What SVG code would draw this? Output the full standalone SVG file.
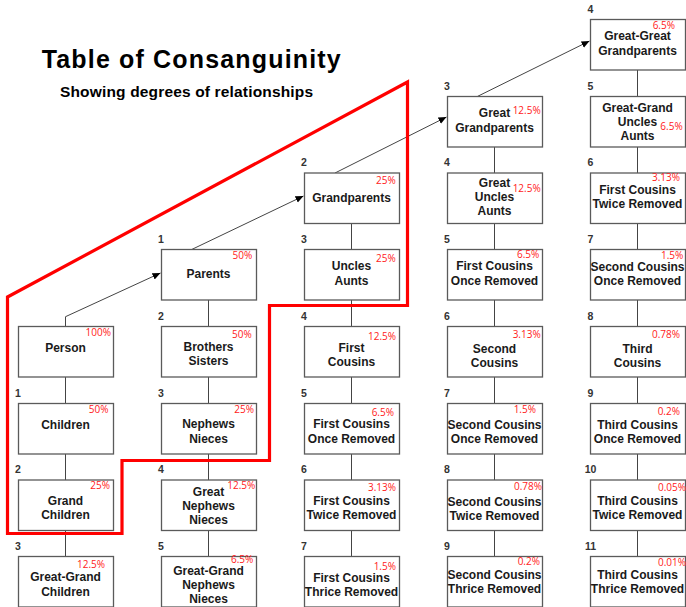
<svg xmlns="http://www.w3.org/2000/svg" width="686" height="607" viewBox="0 0 686 607">
  <style>
    .box { fill: #ffffff; stroke: #5a5a5a; stroke-width: 1.3; }
    .lbl { font-family: "Liberation Sans", Arial, sans-serif; font-weight: bold; font-size: 12px; fill: #1a1a1a; text-anchor: middle; }
    .pct { font-family: "Open Sans", "Liberation Sans", sans-serif; font-size: 10px; fill: #ff1a1a; text-anchor: end; }
    .num { font-family: "Liberation Sans", Arial, sans-serif; font-weight: bold; font-size: 10.5px; fill: #333333; text-anchor: middle; }
    .link { stroke: #444444; stroke-width: 1; fill: none; }
    .title { font-family: "Liberation Sans", Arial, sans-serif; font-weight: bold; fill: #000000; }
  </style>
  <defs>
    <marker id="arrow" markerUnits="userSpaceOnUse" markerWidth="9" markerHeight="8" refX="8" refY="3.5" orient="auto">
      <path d="M0,0 L8,3.5 L0,7 z" fill="#000000"/>
    </marker>
  </defs>

  <rect width="686" height="607" fill="#ffffff"/>

  <text class="title" x="41.7" y="68.3" font-size="25" textLength="299" lengthAdjust="spacing">Table of Consanguinity</text>
  <text class="title" x="60" y="96.5" font-size="15.5" textLength="253" lengthAdjust="spacing">Showing degrees of relationships</text>

  <!-- connectors -->
  <g id="connectors">
    <!-- column 1 -->
    <line class="link" x1="65.5" y1="377" x2="65.5" y2="403.5"/>
    <line class="link" x1="65.5" y1="454" x2="65.5" y2="480"/>
    <line class="link" x1="65.5" y1="530.5" x2="65.5" y2="556.5"/>
    <!-- column 2 -->
    <line class="link" x1="208.5" y1="300" x2="208.5" y2="326.5"/>
    <line class="link" x1="208.5" y1="377" x2="208.5" y2="403.5"/>
    <line class="link" x1="208.5" y1="454" x2="208.5" y2="480"/>
    <line class="link" x1="208.5" y1="530.5" x2="208.5" y2="556.5"/>
    <!-- column 3 -->
    <line class="link" x1="351.5" y1="223.5" x2="351.5" y2="249.5"/>
    <line class="link" x1="351.5" y1="300" x2="351.5" y2="326.5"/>
    <line class="link" x1="351.5" y1="377" x2="351.5" y2="403.5"/>
    <line class="link" x1="351.5" y1="454" x2="351.5" y2="480"/>
    <line class="link" x1="351.5" y1="530.5" x2="351.5" y2="556.5"/>
    <!-- column 4 -->
    <line class="link" x1="494.5" y1="147" x2="494.5" y2="173"/>
    <line class="link" x1="494.5" y1="223.5" x2="494.5" y2="249.5"/>
    <line class="link" x1="494.5" y1="300" x2="494.5" y2="326.5"/>
    <line class="link" x1="494.5" y1="377" x2="494.5" y2="403.5"/>
    <line class="link" x1="494.5" y1="454" x2="494.5" y2="480"/>
    <line class="link" x1="494.5" y1="530.5" x2="494.5" y2="556.5"/>
    <!-- column 5 -->
    <line class="link" x1="637.5" y1="70" x2="637.5" y2="96.5"/>
    <line class="link" x1="637.5" y1="147" x2="637.5" y2="173"/>
    <line class="link" x1="637.5" y1="223.5" x2="637.5" y2="249.5"/>
    <line class="link" x1="637.5" y1="300" x2="637.5" y2="326.5"/>
    <line class="link" x1="637.5" y1="377" x2="637.5" y2="403.5"/>
    <line class="link" x1="637.5" y1="454" x2="637.5" y2="480"/>
    <line class="link" x1="637.5" y1="530.5" x2="637.5" y2="556.5"/>
    <!-- ascending line -->
    <polyline class="link" points="65.5,326.5 65.5,316.7 160.5,273" marker-end="url(#arrow)"/>
    <line class="link" x1="191.7" y1="249.5" x2="303.5" y2="196" marker-end="url(#arrow)"/>
    <line class="link" x1="335" y1="173" x2="446.5" y2="117" marker-end="url(#arrow)"/>
    <line class="link" x1="477.3" y1="96.5" x2="589.5" y2="41" marker-end="url(#arrow)"/>
  </g>

  <!-- column 1 -->
  <g id="person">
    <rect class="box" x="18.5" y="326.5" width="95" height="50.5"/>
    <text class="lbl" x="65.5" y="352">Person</text>
    <text class="pct" x="111" y="336.3">100%</text>
  </g>
  <g id="children">
    <rect class="box" x="18.5" y="403.5" width="95" height="50.5"/>
    <text class="num" x="18" y="396.5">1</text>
    <text class="lbl" x="65.5" y="429.3">Children</text>
    <text class="pct" x="108.5" y="412.6">50%</text>
  </g>
  <g id="grand-children">
    <rect class="box" x="18.5" y="480" width="95" height="50.5"/>
    <text class="num" x="18" y="473">2</text>
    <text class="lbl" x="65.5" y="505">Grand</text>
    <text class="lbl" x="65.5" y="519.3">Children</text>
    <text class="pct" x="110" y="489.3">25%</text>
  </g>
  <g id="great-grand-children">
    <rect class="box" x="18.5" y="556.5" width="95" height="50.5"/>
    <text class="num" x="18" y="549.5">3</text>
    <text class="lbl" x="65.5" y="581">Great-Grand</text>
    <text class="lbl" x="65.5" y="596">Children</text>
    <text class="pct" x="105" y="568">12.5%</text>
  </g>

  <!-- column 2 -->
  <g id="parents">
    <rect class="box" x="161.5" y="249.5" width="95" height="50.5"/>
    <text class="num" x="161" y="242.5">1</text>
    <text class="lbl" x="208.5" y="278.3">Parents</text>
    <text class="pct" x="252.3" y="258.9">50%</text>
  </g>
  <g id="brothers-sisters">
    <rect class="box" x="161.5" y="326.5" width="95" height="50.5"/>
    <text class="num" x="161" y="319.5">2</text>
    <text class="lbl" x="208.5" y="351">Brothers</text>
    <text class="lbl" x="208.5" y="365.3">Sisters</text>
    <text class="pct" x="251.7" y="337.6">50%</text>
  </g>
  <g id="nephews-nieces">
    <rect class="box" x="161.5" y="403.5" width="95" height="50.5"/>
    <text class="num" x="161" y="396.5">3</text>
    <text class="lbl" x="208.5" y="428.3">Nephews</text>
    <text class="lbl" x="208.5" y="442.6">Nieces</text>
    <text class="pct" x="254" y="412.6">25%</text>
  </g>
  <g id="great-nephews-nieces">
    <rect class="box" x="161.5" y="480" width="95" height="50.5"/>
    <text class="num" x="161" y="473">4</text>
    <text class="lbl" x="208.5" y="496">Great</text>
    <text class="lbl" x="208.5" y="510.3">Nephews</text>
    <text class="lbl" x="208.5" y="524.3">Nieces</text>
    <text class="pct" x="255.3" y="488.6">12.5%</text>
  </g>
  <g id="great-grand-nephews-nieces">
    <rect class="box" x="161.5" y="556.5" width="95" height="50.5"/>
    <text class="num" x="161" y="549.5">5</text>
    <text class="lbl" x="208.5" y="574.8">Great-Grand</text>
    <text class="lbl" x="208.5" y="589.3">Nephews</text>
    <text class="lbl" x="208.5" y="603.3">Nieces</text>
    <text class="pct" x="253.3" y="562.6">6.5%</text>
  </g>

  <!-- column 3 -->
  <g id="grandparents">
    <rect class="box" x="304.5" y="173" width="95" height="50.5"/>
    <text class="num" x="304" y="166">2</text>
    <text class="lbl" x="351.5" y="201.6">Grandparents</text>
    <text class="pct" x="395.7" y="184.3">25%</text>
  </g>
  <g id="uncles-aunts">
    <rect class="box" x="304.5" y="249.5" width="95" height="50.5"/>
    <text class="num" x="304" y="242.5">3</text>
    <text class="lbl" x="351.5" y="270.3">Uncles</text>
    <text class="lbl" x="351.5" y="285.3">Aunts</text>
    <text class="pct" x="395.7" y="262.3">25%</text>
  </g>
  <g id="first-cousins">
    <rect class="box" x="304.5" y="326.5" width="95" height="50.5"/>
    <text class="num" x="304" y="319.5">4</text>
    <text class="lbl" x="351.5" y="351.6">First</text>
    <text class="lbl" x="351.5" y="366">Cousins</text>
    <text class="pct" x="396" y="340.3">12.5%</text>
  </g>
  <g id="first-cousins-once-removed-a">
    <rect class="box" x="304.5" y="403.5" width="95" height="50.5"/>
    <text class="num" x="304" y="396.5">5</text>
    <text class="lbl" x="351.5" y="428.3">First Cousins</text>
    <text class="lbl" x="351.5" y="442.6">Once Removed</text>
    <text class="pct" x="394" y="415.9">6.5%</text>
  </g>
  <g id="first-cousins-twice-removed-a">
    <rect class="box" x="304.5" y="480" width="95" height="50.5"/>
    <text class="num" x="304" y="473">6</text>
    <text class="lbl" x="351.5" y="505">First Cousins</text>
    <text class="lbl" x="351.5" y="518.6">Twice Removed</text>
    <text class="pct" x="396" y="490.9">3.13%</text>
  </g>
  <g id="first-cousins-thrice-removed">
    <rect class="box" x="304.5" y="556.5" width="95" height="50.5"/>
    <text class="num" x="304" y="549.5">7</text>
    <text class="lbl" x="351.5" y="581.6">First Cousins</text>
    <text class="lbl" x="351.5" y="596">Thrice Removed</text>
    <text class="pct" x="396" y="569.6">1.5%</text>
  </g>

  <!-- column 4 -->
  <g id="great-grandparents">
    <rect class="box" x="447.5" y="96.5" width="95" height="50.5"/>
    <text class="num" x="447" y="89.5">3</text>
    <text class="lbl" x="494.5" y="117">Great</text>
    <text class="lbl" x="494.5" y="132">Grandparents</text>
    <text class="pct" x="540.7" y="113.6">12.5%</text>
  </g>
  <g id="great-uncles-aunts">
    <rect class="box" x="447.5" y="173" width="95" height="50.5"/>
    <text class="num" x="447" y="166">4</text>
    <text class="lbl" x="494.5" y="186.6">Great</text>
    <text class="lbl" x="494.5" y="201">Uncles</text>
    <text class="lbl" x="494.5" y="215">Aunts</text>
    <text class="pct" x="540.7" y="191.9">12.5%</text>
  </g>
  <g id="first-cousins-once-removed-b">
    <rect class="box" x="447.5" y="249.5" width="95" height="50.5"/>
    <text class="num" x="447" y="242.5">5</text>
    <text class="lbl" x="494.5" y="270.3">First Cousins</text>
    <text class="lbl" x="494.5" y="285">Once Removed</text>
    <text class="pct" x="539.3" y="257.6">6.5%</text>
  </g>
  <g id="second-cousins">
    <rect class="box" x="447.5" y="326.5" width="95" height="50.5"/>
    <text class="num" x="447" y="319.5">6</text>
    <text class="lbl" x="494.5" y="352.6">Second</text>
    <text class="lbl" x="494.5" y="366.6">Cousins</text>
    <text class="pct" x="540.7" y="337.9">3.13%</text>
  </g>
  <g id="second-cousins-once-removed-a">
    <rect class="box" x="447.5" y="403.5" width="95" height="50.5"/>
    <text class="num" x="447" y="396.5">7</text>
    <text class="lbl" x="494.5" y="429.3">Second Cousins</text>
    <text class="lbl" x="494.5" y="443.3">Once Removed</text>
    <text class="pct" x="536" y="412.9">1.5%</text>
  </g>
  <g id="second-cousins-twice-removed">
    <rect class="box" x="447.5" y="480" width="95" height="50.5"/>
    <text class="num" x="447" y="473">8</text>
    <text class="lbl" x="494.5" y="506">Second Cousins</text>
    <text class="lbl" x="494.5" y="520.3">Twice Removed</text>
    <text class="pct" x="542" y="490.3">0.78%</text>
  </g>
  <g id="second-cousins-thrice-removed">
    <rect class="box" x="447.5" y="556.5" width="95" height="50.5"/>
    <text class="num" x="447" y="549.5">9</text>
    <text class="lbl" x="494.5" y="578.6">Second Cousins</text>
    <text class="lbl" x="494.5" y="592.6">Thrice Removed</text>
    <text class="pct" x="540" y="565.3">0.2%</text>
  </g>

  <!-- column 5 -->
  <g id="great-great-grandparents">
    <rect class="box" x="590.5" y="19.5" width="95" height="50.5"/>
    <text class="num" x="590.5" y="13">4</text>
    <text class="lbl" x="637.5" y="40.3">Great-Great</text>
    <text class="lbl" x="637.5" y="55.3">Grandparents</text>
    <text class="pct" x="675" y="28.6">6.5%</text>
  </g>
  <g id="great-grand-uncles-aunts">
    <rect class="box" x="590.5" y="96.5" width="95" height="50.5"/>
    <text class="num" x="590.5" y="89.5">5</text>
    <text class="lbl" x="637.5" y="111.6">Great-Grand</text>
    <text class="lbl" x="637.5" y="126">Uncles</text>
    <text class="lbl" x="637.5" y="140">Aunts</text>
    <text class="pct" x="682.7" y="129.6">6.5%</text>
  </g>
  <g id="first-cousins-twice-removed-b">
    <rect class="box" x="590.5" y="173" width="95" height="50.5"/>
    <text class="num" x="590.5" y="166">6</text>
    <text class="lbl" x="637.5" y="194">First Cousins</text>
    <text class="lbl" x="637.5" y="208">Twice Removed</text>
    <text class="pct" x="680" y="180.9">3.13%</text>
  </g>
  <g id="second-cousins-once-removed-b">
    <rect class="box" x="590.5" y="249.5" width="95" height="50.5"/>
    <text class="num" x="590.5" y="242.5">7</text>
    <text class="lbl" x="637.5" y="270.8">Second Cousins</text>
    <text class="lbl" x="637.5" y="285">Once Removed</text>
    <text class="pct" x="683.3" y="258.6">1.5%</text>
  </g>
  <g id="third-cousins">
    <rect class="box" x="590.5" y="326.5" width="95" height="50.5"/>
    <text class="num" x="590.5" y="319.5">8</text>
    <text class="lbl" x="637.5" y="352.6">Third</text>
    <text class="lbl" x="637.5" y="366.6">Cousins</text>
    <text class="pct" x="680" y="337.9">0.78%</text>
  </g>
  <g id="third-cousins-once-removed">
    <rect class="box" x="590.5" y="403.5" width="95" height="50.5"/>
    <text class="num" x="590.5" y="396.5">9</text>
    <text class="lbl" x="637.5" y="429.3">Third Cousins</text>
    <text class="lbl" x="637.5" y="443.3">Once Removed</text>
    <text class="pct" x="680" y="414.6">0.2%</text>
  </g>
  <g id="third-cousins-twice-removed">
    <rect class="box" x="590.5" y="480" width="95" height="50.5"/>
    <text class="num" x="590.5" y="473">10</text>
    <text class="lbl" x="637.5" y="505">Third Cousins</text>
    <text class="lbl" x="637.5" y="519.3">Twice Removed</text>
    <text class="pct" x="686" y="491.3">0.05%</text>
  </g>
  <g id="third-cousins-thrice-removed">
    <rect class="box" x="590.5" y="556.5" width="95" height="50.5"/>
    <text class="num" x="590.5" y="549.5">11</text>
    <text class="lbl" x="637.5" y="578.6">Third Cousins</text>
    <text class="lbl" x="637.5" y="592.6">Thrice Removed</text>
    <text class="pct" x="686" y="565.9">0.01%</text>
  </g>

  <!-- close-family boundary -->
  <polygon points="7.5,297 407.5,82 407.5,305.5 269.5,305.5 269.5,460.5 122,460.5 122,533.5 7.5,533.5" fill="none" stroke="#ff0000" stroke-width="3.2" stroke-linejoin="miter"/>
</svg>
